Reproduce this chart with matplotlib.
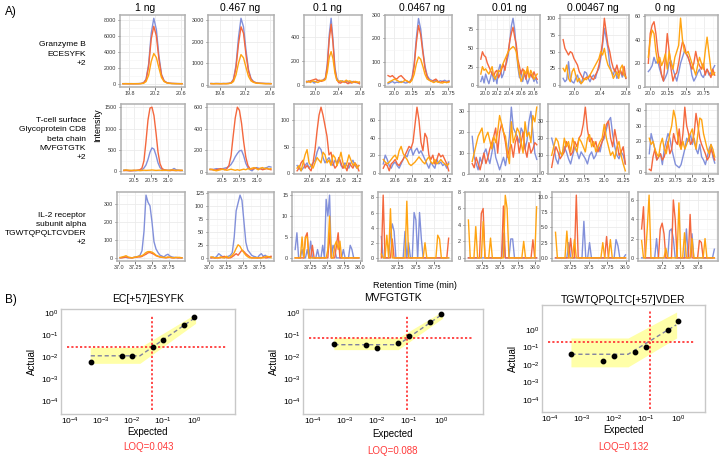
import numpy as np
import matplotlib.pyplot as plt
from matplotlib.ticker import AutoMinorLocator, NullFormatter

# column titles and row names
amounts = ['1 ng', '0.467 ng', '0.1 ng', '0.0467 ng', '0.01 ng', '0.00467 ng', '0 ng']
row_names = ['Granzyme B\nECESYFK\n+2',
             'T-cell surface\nGlycoprotein CD8\nbeta chain\nMVFGTGTK\n+2',
             'IL-2 receptor\nsubunit alpha\nTGWTQPQLTCVDER\n+2']

# ---- row 1: Granzyme B ----
gzb_rt = [(19.70, 20.62), (19.66, 20.62), (19.85, 20.78), (19.92, 20.76),
          (19.93, 20.86), (19.83, 20.80), (19.98, 20.90)]
gzb_xticks = [[19.8, 20.2, 20.6], [19.8, 20.2, 20.6], [20.0, 20.4, 20.8],
              [20.0, 20.25, 20.5, 20.75], [20.0, 20.2, 20.4, 20.6, 20.8],
              [20.0, 20.4, 20.8], [20.0, 20.25, 20.5, 20.75]]
gzb_yticks = [[0, 2000, 4000, 6000, 8000], [0, 1000, 2000, 3000], [0, 200, 400],
              [0, 100, 200, 300], [0, 25, 50, 75], [0, 25, 50, 75, 100], [0, 20, 40, 60]]
gzb_blue = [
    [40, 45, 40, 42, 38, 40, 45, 60, 150, 600, 2500, 6300, 8200, 6800, 3500, 1200, 400, 180, 100, 70, 60, 50, 45, 40],
    [50, 45, 50, 48, 45, 50, 48, 55, 80, 250, 900, 2200, 3100, 2700, 1600, 700, 280, 140, 90, 70, 60, 55, 50, 50, 45],
    [20, 35, 25, 30, 15, 28, 40, 30, 35, 45, 60, 180, 420, 560, 380, 150, 60, 30, 25, 35, 20, 30, 25, 15, 30, 20, 25, 15, 20],
    [5, 10, 15, 8, 12, 10, 15, 12, 8, 10, 15, 30, 90, 200, 285, 240, 150, 80, 40, 25, 20, 15, 20, 12, 18, 15, 20, 15, 18],
    [5, 12, 3, 15, 8, 2, 10, 18, 5, 12, 2, 20, 28, 10, 15, 25, 30, 40, 60, 80, 90, 75, 50, 25, 10, 20, 5, 15, 10, 2, 8, 15, 12, 5, 10, 3],
    [10, 5, 8, 35, 10, 5, 3, 10, 15, 5, 2, 10, 20, 18, 10, 5, 12, 15, 10, 20, 25, 40, 60, 85, 70, 55, 30, 20, 15, 25, 10, 15, 20, 12, 18, 10],
    [13, 15, 18, 25, 20, 22, 15, 10, 5, 8, 12, 20, 22, 15, 10, 5, 12, 20, 25, 30, 28, 25, 20, 10, 5, 8, 12, 15, 10, 8, 12, 15, 10, 12, 15, 18],
]
gzb_red = [
    [35, 40, 35, 38, 35, 38, 40, 55, 130, 520, 2200, 5600, 7200, 6000, 3100, 1100, 380, 170, 95, 65, 55, 45, 40, 35],
    [45, 40, 45, 43, 40, 45, 43, 50, 70, 220, 800, 1900, 2700, 2400, 1400, 620, 250, 120, 80, 60, 55, 50, 45, 45, 40],
    [30, 25, 35, 40, 45, 50, 35, 40, 30, 40, 55, 160, 380, 510, 350, 130, 45, 20, 15, 25, 30, 20, 10, 25, 15, 30, 20, 25, 10],
    [40, 35, 40, 30, 25, 35, 40, 30, 20, 15, 10, 25, 80, 180, 255, 215, 140, 70, 35, 20, 15, 20, 25, 15, 10, 15, 12, 10, 15],
    [35, 45, 40, 38, 30, 25, 20, 15, 12, 18, 20, 10, 15, 22, 28, 20, 35, 45, 60, 70, 78, 65, 55, 35, 25, 15, 22, 18, 8, 20, 12, 15, 10, 18, 12, 8],
    [68, 55, 50, 45, 50, 48, 40, 35, 30, 20, 15, 10, 8, 12, 10, 15, 10, 8, 15, 20, 30, 45, 65, 100, 80, 60, 50, 35, 25, 20, 30, 18, 22, 15, 28, 10],
    [20, 45, 52, 55, 45, 30, 20, 10, 5, 25, 45, 30, 15, 5, 10, 12, 20, 30, 38, 35, 28, 25, 20, 15, 20, 30, 22, 18, 15, 20, 10, 15, 12, 8, 15, 10],
]
gzb_orange = [
    [30, 35, 30, 32, 30, 32, 35, 45, 80, 300, 1100, 2800, 3800, 3300, 2000, 800, 300, 140, 80, 55, 45, 40, 35, 30],
    [40, 38, 40, 40, 38, 40, 40, 45, 60, 140, 450, 1000, 1400, 1250, 800, 380, 170, 100, 70, 55, 50, 45, 40, 40, 40],
    [25, 30, 20, 35, 30, 25, 20, 30, 40, 35, 45, 110, 230, 280, 220, 100, 40, 30, 35, 30, 25, 40, 30, 35, 20, 25, 30, 20, 25],
    [10, 15, 20, 25, 20, 15, 10, 15, 20, 15, 10, 20, 45, 90, 120, 110, 80, 45, 25, 20, 15, 10, 15, 12, 10, 8, 12, 10, 12],
    [15, 25, 20, 22, 18, 15, 20, 25, 12, 8, 15, 20, 18, 25, 30, 35, 40, 45, 48, 50, 52, 50, 45, 30, 15, 5, 10, 20, 15, 25, 10, 20, 15, 8, 12, 15],
    [25, 20, 30, 10, 5, 20, 25, 15, 5, 10, 2, 5, 10, 8, 12, 15, 20, 25, 30, 35, 40, 50, 45, 55, 40, 30, 25, 20, 10, 15, 20, 10, 25, 30, 15, 12],
    [25, 40, 48, 45, 30, 20, 25, 18, 22, 28, 15, 30, 20, 15, 25, 30, 35, 58, 40, 30, 28, 30, 25, 20, 15, 10, 18, 25, 20, 15, 30, 42, 28, 15, 10, 12],
]

# ---- row 2: CD8 beta ----
cd8_rt = [(20.35, 21.20), (20.33, 21.20), (20.45, 21.22), (20.47, 21.22),
          (20.47, 21.20), (20.35, 21.27), (20.35, 21.35)]
cd8_xticks = [[20.5, 20.75, 21.0], [20.5, 20.75, 21.0], [20.6, 20.8, 21.0, 21.2],
              [20.6, 20.8, 21.0, 21.2], [20.6, 20.8, 21.0, 21.2],
              [20.5, 20.75, 21.0, 21.25], [20.5, 20.75, 21.0, 21.25]]
cd8_yticks = [[0, 500, 1000, 1500], [0, 200, 400, 600], [0, 50, 100], [0, 20, 40, 60],
              [0, 10, 20, 30], [0, 10, 20, 30], [0, 10, 20, 30, 40]]
cd8_blue = [
    [30, 28, 25, 20, 22, 25, 20, 25, 30, 40, 80, 150, 280, 450, 550, 520, 380, 200, 90, 50, 35, 30, 25, 30, 40, 70, 40, 30, 25, 20],
    [25, 20, 25, 30, 28, 25, 30, 35, 40, 50, 70, 100, 140, 170, 195, 200, 150, 80, 40, 20, 10, 30, 40, 35, 30, 25, 35, 40, 50, 45],
    [15, 10, 5, 10, 15, 20, 10, 15, 20, 25, 40, 50, 45, 30, 20, 25, 30, 20, 15, 25, 20, 30, 15, 10, 20, 15, 10, 20, 25, 15, 10, 15],
    [10, 20, 15, 8, 5, 10, 12, 8, 5, 10, 15, 20, 18, 25, 28, 20, 25, 28, 22, 25, 20, 15, 10, 5, 12, 8, 5, 15, 10, 12, 8, 10, 5, 12],
    [18, 8, 5, 2, 8, 5, 10, 12, 8, 5, 10, 15, 8, 5, 2, 5, 8, 4, 10, 18, 32, 22, 20, 18, 15, 22, 20, 12, 16, 25, 30, 20, 10, 7],
    [20, 15, 8, 5, 12, 10, 15, 12, 8, 5, 10, 15, 12, 8, 12, 10, 8, 5, 10, 12, 8, 10, 15, 12, 18, 20, 25, 30, 32, 22, 15, 10, 8, 12, 10, 5],
    [12, 25, 20, 15, 8, 10, 12, 5, 15, 20, 25, 22, 15, 10, 5, 4, 3, 5, 10, 15, 22, 20, 25, 18, 22, 15, 12, 18, 10, 8, 5, 10, 15, 18, 10, 6],
]
cd8_red = [
    [20, 25, 20, 15, 18, 20, 25, 30, 40, 80, 250, 700, 1200, 1480, 1500, 1300, 900, 450, 180, 70, 40, 30, 25, 20, 30, 25, 20, 25, 20, 25],
    [20, 25, 15, 20, 25, 30, 25, 20, 30, 60, 150, 330, 500, 600, 570, 450, 280, 140, 60, 30, 25, 30, 35, 25, 30, 20, 25, 30, 25, 20],
    [5, 10, 20, 25, 10, 15, 10, 5, 20, 45, 80, 110, 125, 110, 90, 70, 35, 40, 20, 10, 15, 30, 20, 10, 15, 5, 20, 15, 10, 20, 15, 5],
    [5, 10, 8, 2, 10, 12, 15, 10, 8, 12, 15, 20, 25, 30, 28, 35, 55, 75, 60, 35, 25, 45, 40, 20, 15, 20, 10, 15, 22, 18, 20, 15, 10, 2],
    [5, 3, 8, 5, 2, 6, 10, 5, 8, 12, 15, 18, 22, 10, 20, 24, 20, 15, 8, 12, 14, 8, 15, 18, 10, 15, 20, 12, 8, 15, 10, 12, 15, 14],
    [3, 10, 15, 12, 8, 10, 12, 18, 15, 10, 12, 18, 15, 20, 22, 28, 38, 25, 18, 20, 15, 18, 12, 15, 18, 22, 28, 30, 20, 15, 25, 18, 10, 12, 15, 5],
    [2, 1, 10, 15, 8, 10, 12, 8, 10, 15, 20, 12, 15, 25, 20, 18, 28, 15, 25, 42, 30, 25, 18, 20, 25, 38, 30, 22, 18, 15, 12, 8, 10, 15, 12, 8],
]
cd8_orange = [
    [30, 35, 30, 28, 25, 30, 25, 28, 20, 25, 30, 25, 28, 30, 35, 30, 25, 28, 30, 25, 30, 28, 25, 30, 35, 30, 25, 28, 30, 25],
    [25, 20, 15, 10, 15, 20, 25, 20, 15, 20, 25, 20, 15, 20, 15, 20, 25, 20, 30, 25, 35, 40, 30, 20, 35, 40, 30, 35, 25, 30],
    [10, 15, 5, 20, 35, 45, 20, 15, 10, 20, 30, 25, 20, 40, 35, 20, 25, 15, 35, 30, 15, 25, 40, 20, 10, 20, 35, 25, 15, 20, 10, 15],
    [15, 12, 10, 12, 15, 18, 20, 15, 25, 30, 22, 18, 15, 10, 8, 10, 12, 15, 18, 15, 12, 10, 15, 18, 12, 10, 15, 10, 12, 15, 12, 10, 8, 10],
    [6, 10, 14, 18, 20, 22, 15, 18, 20, 16, 12, 18, 15, 20, 28, 24, 20, 18, 10, 5, 25, 15, 18, 22, 20, 15, 10, 25, 18, 20, 15, 28, 25, 32],
    [10, 15, 20, 18, 12, 10, 20, 15, 18, 12, 20, 15, 12, 20, 18, 15, 12, 20, 22, 15, 18, 12, 15, 18, 20, 28, 20, 15, 10, 12, 8, 15, 18, 10, 5, 1],
    [22, 18, 20, 15, 12, 10, 18, 22, 15, 12, 18, 25, 30, 40, 35, 25, 18, 15, 20, 15, 18, 22, 25, 28, 20, 15, 25, 35, 34, 25, 20, 15, 12, 18, 15, 10],
]

# ---- row 3: IL-2 receptor alpha ----
il2_rt = [(37.02, 37.95), (37.03, 37.92), (37.02, 37.98), (37.02, 37.95),
          (37.05, 38.02), (37.05, 38.00), (36.85, 38.08)]
il2_xticks = [[37.0, 37.25, 37.5, 37.75], [37.0, 37.25, 37.5, 37.75],
              [37.25, 37.5, 37.75, 38.0], [37.25, 37.5, 37.75],
              [37.25, 37.5, 37.75, 38.0], [37.25, 37.5, 37.75, 38.0], [37.2, 37.5, 37.8]]
il2_yticks = [[0, 100, 200, 300], [0, 25, 50, 75, 100, 125], [0, 5, 10, 15], [0, 2, 4, 6, 8],
              [0, 2, 4, 6, 8], [0.0, 2.5, 5.0, 7.5, 10.0], [0, 2, 4, 6]]
il2_blue = [
    [0, 2, 5, 3, 0, 2, 0, 3, 5, 8, 15, 40, 150, 350, 310, 290, 200, 90, 50, 30, 15, 10, 5, 15, 20, 10, 5, 3, 2, 0, 2, 0],
    [0, 2, 0, 3, 8, 5, 2, 0, 2, 3, 5, 10, 40, 90, 105, 120, 110, 70, 30, 15, 10, 5, 3, 2, 0, 5, 8, 3, 5, 2, 0, 2],
    [2, 6, 0, 0, 2, 0, 0, 2, 0, 4, 0, 0, 0, 2, 0, 0, 3, 0, 14, 10, 15, 0, 3, 2, 0, 0, 0, 0, 2, 0, 0, 0, 3, 2, 0, 0, 0, 0],
    [2.8, 0, 0, 0, 0, 3, 4.5, 3.5, 0, 0, 0, 0, 0, 3.5, 0, 2, 0, 0, 6, 5, 0, 6, 2.5, 0, 0, 0, 0, 0, 0, 0, 0, 0, 0, 0, 0, 0, 0, 0],
    [0, 0, 0, 0, 0, 0, 0, 0, 0, 0, 0, 0, 0, 0, 0, 0, 0, 0, 0, 3, 0, 0, 0, 2.3, 2.3, 0, 0, 0, 0, 0, 0, 0, 0, 0, 0, 0, 0, 0],
    [0, 0, 0, 0, 0, 0, 0, 2.5, 0, 0, 0, 0, 0, 0, 0, 6, 0, 0, 2.5, 0, 0, 0, 0, 0, 0, 0, 0, 0, 0, 0, 0, 0, 3, 2, 0, 0, 0, 0.5],
    [0, 0, 0, 0, 0, 0, 0, 0, 2, 0, 0, 0, 0, 0, 0, 2.8, 3, 2, 0, 0, 0, 0, 0, 0, 3, 0, 0, 2.5, 0, 0, 0, 0, 0, 0, 0, 0, 0, 0, 0, 0.9],
]
il2_red = [
    [0, 0, 2, 5, 2, 0, 0, 2, 3, 5, 5, 8, 15, 20, 28, 30, 25, 20, 12, 8, 5, 3, 2, 0, 2, 3, 0, 0, 2, 0, 0, 0],
    [0, 0, 0, 0, 0, 0, 2, 3, 0, 0, 0, 2, 5, 8, 5, 10, 15, 12, 8, 5, 2, 0, 0, 0, 0, 0, 0, 2, 0, 0, 2, 3],
    [0, 0, 0, 0, 0, 0, 5, 6, 0, 0, 3, 0, 0, 0, 0, 0, 0, 0, 0, 0, 6, 0, 0, 0, 3, 6, 0, 0, 0, 0, 0, 0, 0, 0, 0, 0, 0, 0],
    [0, 8.3, 0, 0, 0, 0, 2.5, 0, 0, 0, 0, 0, 0, 0, 0, 0, 0, 0, 0, 0, 0, 0, 0, 0, 0, 0, 0, 0, 0, 0, 0, 0, 0, 0, 0, 0, 0, 2.6],
    [0, 0, 0, 0, 0, 0, 0, 5.4, 6, 0, 0, 0, 0, 0, 0, 0, 0, 0, 0, 6.3, 0, 0, 0, 0, 0, 0, 0, 0, 0, 0, 0, 0, 0, 0, 0, 2.2, 0, 0],
    [0, 0, 0, 0, 0, 0, 0, 0, 3.2, 0, 0, 10.3, 0, 0, 0, 0, 0, 0, 0, 0, 0, 0, 0, 0, 0, 0, 0, 3.5, 0, 0, 0, 0, 0, 0, 0, 0, 0, 0],
    [3, 5.3, 0, 0, 0, 0, 0, 0, 0, 0, 3, 3.6, 2.5, 0, 0, 0, 0, 6, 4, 0, 0, 0, 0, 0, 0, 0, 4.5, 0, 0, 0, 0, 1.8, 1.6, 0, 0, 0, 0, 0, 0, 0],
]
il2_orange = [
    [2, 5, 8, 12, 5, 2, 0, 3, 5, 8, 10, 12, 20, 30, 35, 35, 32, 25, 15, 10, 5, 3, 2, 2, 5, 3, 2, 0, 2, 3, 2, 0],
    [2, 1, 0, 0, 0, 2, 0, 0, 3, 0, 2, 5, 10, 18, 25, 22, 15, 10, 5, 2, 0, 0, 0, 0, 0, 0, 0, 0, 2, 3, 2, 0],
    [0, 0, 0, 0, 5, 0, 5, 5, 0, 0, 0, 0, 0, 0, 0, 0, 0, 0, 0, 2, 10, 0, 0, 3, 4, 2, 4, 0, 0, 0, 0, 0, 0, 0, 0, 0, 0, 0],
    [0.5, 0, 0, 3, 0, 6.5, 0, 0, 0, 0, 0, 0, 0, 0, 7.5, 0, 0, 0, 0, 0, 0, 0, 0, 0, 2, 0, 0, 0, 0, 0, 0, 3, 2.5, 0, 0, 0, 0, 0],
    [4.6, 0, 0, 0, 3.8, 0, 0, 0, 4.4, 0, 0, 0, 2.4, 0, 0, 0, 0, 0, 0, 0, 7.6, 6, 0, 0, 0, 0, 0, 0, 0, 0, 2, 0, 0, 0, 0, 0, 0, 6.2],
    [4.2, 0, 0, 0, 0, 0, 4.4, 0, 0, 0, 3, 0, 0, 0, 0, 0, 0, 0, 0, 0, 0, 0, 0, 0, 0, 2.5, 0, 0, 0, 3, 0, 0, 0, 0, 0, 0, 0, 0],
    [1.8, 0, 0, 3, 6.5, 0, 0, 0, 0, 0, 0, 0, 0, 1, 0, 0, 0, 0, 0, 0, 5.7, 0, 0, 2.6, 0, 0, 0, 2, 0, 0, 0, 0, 0, 0, 2, 0, 0, 0, 0, 0],
]

# ---- part B: calibration curves ----
expected = [0.000467, 0.00467, 0.01, 0.0467, 0.1, 0.467, 1.0]
cal_titles = ['EC[+57]ESYFK', 'MVFGTGTK', 'TGWTQPQLTC[+57]VDER']
cal_loq = [0.043, 0.088, 0.132]
cal_loq_y = [0.028, 0.076, 0.20]
cal_actual = [
    [0.0060, 0.0115, 0.0107, 0.029, 0.059, 0.28, 0.71],
    [0.040, 0.037, 0.025, 0.045, 0.089, 0.40, 0.95],
    [0.043, 0.017, 0.032, 0.055, 0.107, 1.0, 3.2],
]
cal_fit_x = [[0.000467, 0.018, 1.07], [0.000467, 0.046, 1.07], [0.000467, 0.0275, 0.87]]
cal_fit_y = [[0.0115, 0.0115, 0.63], [0.037, 0.037, 0.89], [0.041, 0.041, 1.95]]
cal_band_x = [[0.00045, 0.018, 1.12], [0.00045, 0.046, 1.12], [0.00045, 0.0275, 0.9]]
cal_band_lo = [[0.0052, 0.0052, 0.35], [0.022, 0.022, 0.6], [0.0078, 0.0078, 0.35]]
cal_band_hi = [[0.028, 0.028, 0.95], [0.076, 0.076, 1.25], [0.35, 0.35, 10.7]]

# ---------------------------------------------------------------
W, H = 720, 457
fig = plt.figure(figsize=(W / 100, H / 100), dpi=100)
plt.rcParams['font.family'] = ['Liberation Sans', 'DejaVu Sans']


def box(l, t, r, b):
    # axes from pixel edges (left, top, right, bottom)
    return fig.add_axes([l / W, 1 - b / H, (r - l) / W, (b - t) / H])


blue, red, orange = '#8290DA', '#F4683E', '#FFA412'

row_data = [
    (gzb_rt, gzb_blue, gzb_red, gzb_orange, gzb_xticks, gzb_yticks),
    (cd8_rt, cd8_blue, cd8_red, cd8_orange, cd8_xticks, cd8_yticks),
    (il2_rt, il2_blue, il2_red, il2_orange, il2_xticks, il2_yticks),
]
row_tb = [(15, 87), (104, 174), (192, 261)]
row_lefts = [[120, 208, 304, 385, 478, 560, 645],
             [121, 207, 294, 380, 469, 548, 646],
             [117, 208, 292, 378, 465, 552, 638]]
col_rights = [185, 274, 362, 452, 540, 629, 718]
title_x = [145, 240, 327, 422, 509, 593, 665]
label_y = [54, 139, 229]

for r, (rt, yb, yr, yo, xt, yt) in enumerate(row_data):
    top, bot = row_tb[r]
    for c in range(7):
        ax = box(row_lefts[r][c], top, col_rights[c], bot)
        for ys, col in ((yb[c], blue), (yr[c], red), (yo[c], orange)):
            x = np.linspace(rt[c][0], rt[c][1], len(ys))
            ax.plot(x, ys, color=col, lw=1.0)
        ax.set_xticks(xt[c])
        ax.set_xticklabels([str(v) for v in xt[c]])
        ax.set_yticks(yt[c])
        ax.set_yticklabels([str(v) for v in yt[c]])
        ax.xaxis.set_minor_locator(AutoMinorLocator(2))
        ax.yaxis.set_minor_locator(AutoMinorLocator(2))
        ax.grid(which='major', color='#EBEBEB', lw=0.6)
        ax.grid(which='minor', color='#F4F4F4', lw=0.4)
        ax.set_axisbelow(True)
        ax.tick_params(which='major', labelsize=3.9, length=1.8, width=0.5,
                       color='#444444', pad=1, labelcolor='#333333')
        ax.tick_params(which='minor', length=0)
        for s in ax.spines.values():
            s.set_color('#B0B0B0')
            s.set_linewidth(1.1)
        if r == 0:
            fig.text(title_x[c] / W, 1 - 8 / H, amounts[c], ha='center', va='center', fontsize=7.5)
    fig.text(86 / W, 1 - label_y[r] / H, row_names[r], ha='right', va='center',
             fontsize=6.0, linespacing=1.42)

fig.text(98 / W, 1 - 125 / H, 'Intensity', rotation=90, ha='center', va='center', fontsize=6.5)
fig.text(415 / W, 1 - 285 / H, 'Retention Time (min)', ha='center', va='center', fontsize=6.5)
fig.text(5 / W, 1 - 12 / H, 'A)', ha='left', va='center', fontsize=8.5)
fig.text(5 / W, 1 - 300 / H, 'B)', ha='left', va='center', fontsize=8.5)

# part B layout
cal_box = [(61, 309, 235, 414), (303, 309, 483, 414), (542, 305, 705, 412)]
cal_xlim = [(-4.29, 1.32), (-4.31, 1.31), (-4.25, 0.84)]
cal_ylim = [(-4.6, 0.2), (-4.6, 0.2), (-4.69, 1.43)]
cal_title_y = [299, 298, 300]
cal_loq_text_y = [447, 451, 447]
cal_xlab_y = [432, 434, 430]

for i in range(3):
    l, t, rr, b = cal_box[i]
    ax = box(l, t, rr, b)
    ax.set_xscale('log')
    ax.set_yscale('log')
    ax.fill_between(cal_band_x[i], cal_band_lo[i], cal_band_hi[i], color='#FFFF99',
                    alpha=0.85, lw=0)
    ax.plot(cal_fit_x[i], cal_fit_y[i], color='#8080A0', lw=1.0, ls=(0, (3, 2)))
    ax.scatter(expected, cal_actual[i], s=10, color='black', zorder=4)
    x0, x1 = cal_xlim[i]
    y0, y1 = cal_ylim[i]
    ax.hlines(cal_loq_y[i], 10 ** (x0 + 0.2), 10 ** (x1 - 0.3), color='#FF3B3B',
              lw=1.3, ls=(0, (1.2, 1.2)), zorder=3)
    ax.vlines(cal_loq[i], 10 ** (y0 + 0.2), 10 ** (y1 - 0.3), color='#FF3B3B',
              lw=1.3, ls=(0, (1.2, 1.2)), zorder=3)
    ax.set_xlim(10 ** x0, 10 ** x1)
    ax.set_ylim(10 ** y0, 10 ** y1)
    ax.set_xticks([1e-4, 1e-3, 1e-2, 1e-1, 1e0])
    ax.set_yticks([1e-4, 1e-3, 1e-2, 1e-1, 1e0])
    ax.xaxis.set_minor_formatter(NullFormatter())
    ax.yaxis.set_minor_formatter(NullFormatter())
    ax.tick_params(which='minor', length=0)
    ax.tick_params(which='major', labelsize=6, length=0, pad=1.5)
    for s in ax.spines.values():
        s.set_color('#C8C8C8')
        s.set_linewidth(1.0)
    ax.set_ylabel('Actual', fontsize=7, labelpad=3)
    cx = (l + rr) / 2
    fig.text(cx / W, 1 - cal_title_y[i] / H, cal_titles[i], ha='center', va='center', fontsize=7.5)
    fig.text(cx / W, 1 - cal_xlab_y[i] / H, 'Expected', ha='center', va='center', fontsize=7)
    fig.text(cx / W, 1 - cal_loq_text_y[i] / H, 'LOQ=%g' % cal_loq[i], ha='center',
             va='center', fontsize=7, color='#FF3B3B')

fig.savefig('out.png', dpi=100)
